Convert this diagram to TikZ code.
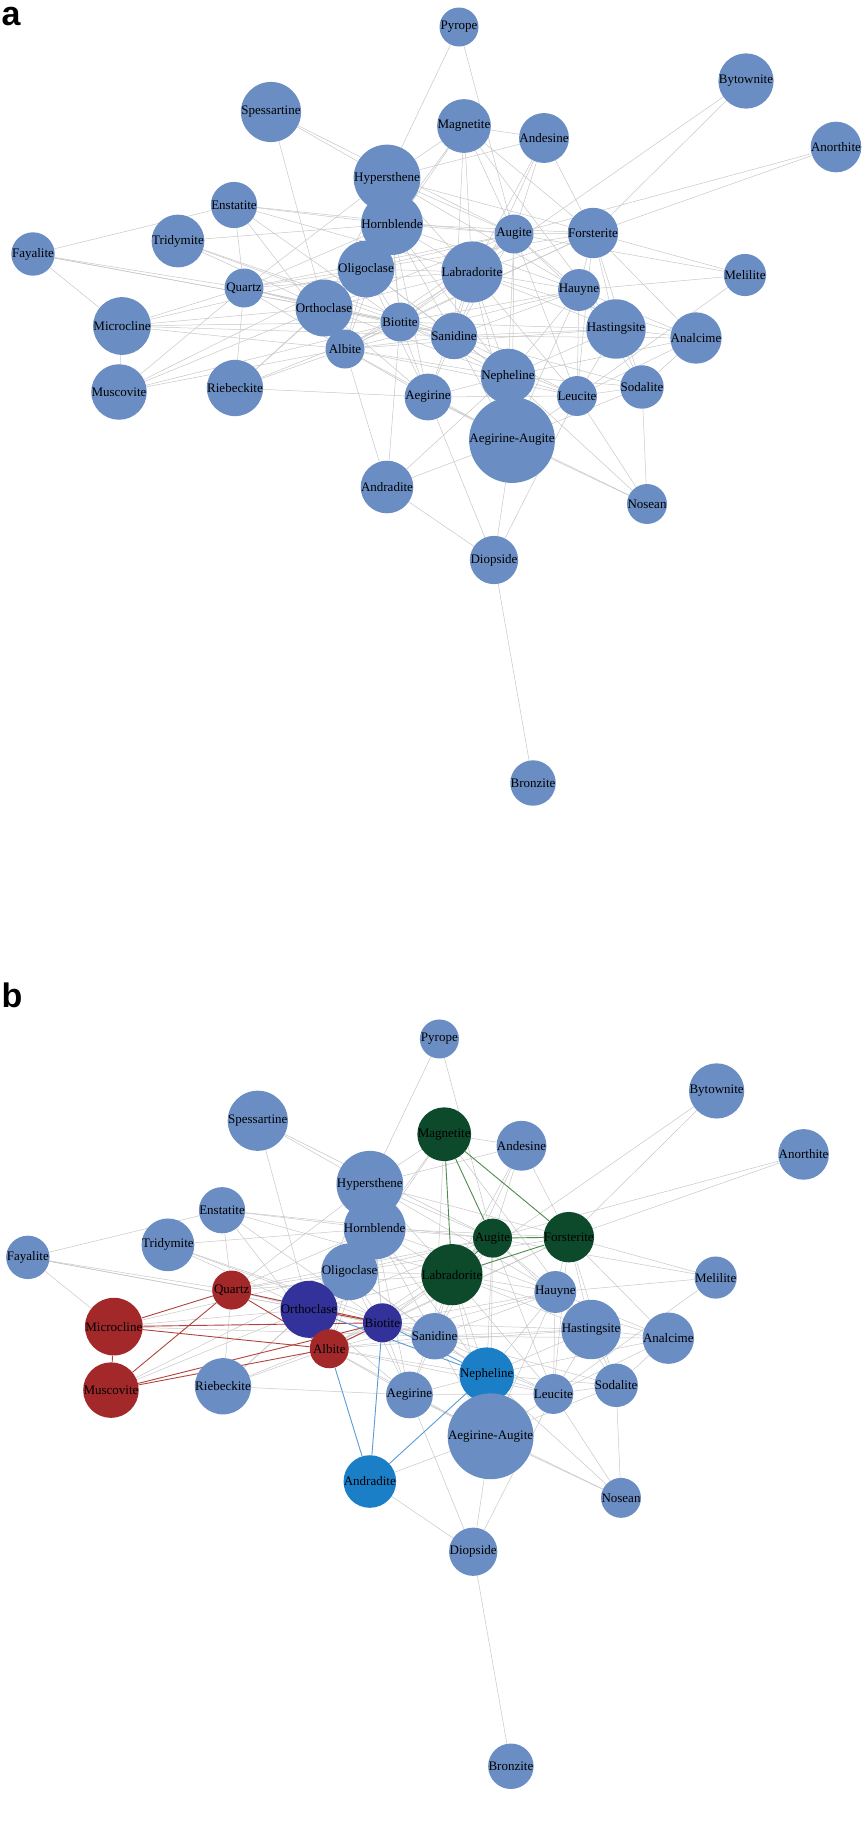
\documentclass[tikz,border=0pt]{standalone}
\usepackage{fontspec}
\setmainfont{Liberation Serif}
\newfontfamily\labfont{Liberation Sans}
\definecolor{nodeblue}{HTML}{6A8EC3}
\definecolor{nred}{HTML}{A3282A}
\definecolor{ngreen}{HTML}{0D4A2C}
\definecolor{npurple}{HTML}{33319A}
\definecolor{nbright}{HTML}{1B7FC8}
\definecolor{ered}{HTML}{B0433C}
\definecolor{egreen}{HTML}{4E8A4E}
\definecolor{eblue}{HTML}{5C9AD4}
\pgfdeclarelayer{bg}
\pgfsetlayers{bg,main}
\tikzset{
  mnode/.style={circle,draw=none,minimum size=39pt,inner sep=0pt,font=\fontsize{13}{13}\selectfont},
  edge/.style={draw=black!22,line width=0.5pt},
  credge/.style={line width=0.9pt},
}
\newcommand\nodelist{%
pyr/459/27/Pyrope/nodeblue, byt/746/81/Bytownite/nodeblue, spe/271/112/Spessartine/nodeblue,
mag/464/126/Magnetite/ngreen, and/544/138/Andesine/nodeblue, ano/836/147/Anorthite/nodeblue,
hyp/387/178/Hypersthene/nodeblue, ens/234/205/Enstatite/nodeblue, hor/392/224/Hornblende/nodeblue,
aug/514/234/Augite/ngreen, for/593/233/Forsterite/ngreen, tri/178/241/Tridymite/nodeblue,
fay/33/254/Fayalite/nodeblue, oli/366/269/Oligoclase/nodeblue, lab/472/272/Labradorite/ngreen,
mel/745/275/Melilite/nodeblue, qua/244/288/Quartz/nred, hau/579/290/Hauyne/nodeblue,
ort/324/308/Orthoclase/npurple, bio/400/322/Biotite/npurple, mic/122/326/Microcline/nred,
has/616/329/Hastingsite/nodeblue, san/454/336/Sanidine/nodeblue, ana/696/338/Analcime/nodeblue,
alb/345/349/Albite/nred, nep/508/376/Nepheline/nbright, sod/642/387/Sodalite/nodeblue,
rie/235/388/Riebeckite/nodeblue, mus/119/392/Muscovite/nred, leu/577/396/Leucite/nodeblue,
aeg/428/397/Aegirine/nodeblue, aea/512/440/Aegirine-Augite/nodeblue, adr/387/487/Andradite/nbright,
nos/647/504/Nosean/nodeblue, dio/494/560/Diopside/nodeblue, bro/533/783/Bronzite/nodeblue}
\newcommand\edgelist{%
pyr/hyp,pyr/aug,byt/lab,byt/for,ano/for,ano/aug,spe/hyp,spe/aug,spe/ort,
mag/and,mag/hyp,mag/hor,mag/oli,mag/san,mag/has,and/hyp,and/aug,and/for,and/lab,and/san,
hyp/hor,hyp/oli,hyp/qua,hyp/aug,hyp/for,hyp/lab,hyp/hau,hyp/bio,hyp/ort,
ens/fay,ens/qua,ens/aug,ens/hor,ens/alb,ens/bio,ens/lab,tri/hor,tri/ort,tri/bio,tri/san,
fay/mic,fay/qua,fay/ort,fay/bio,qua/ort,qua/oli,qua/lab,qua/hor,qua/rie,qua/aug,qua/san,
mic/ort,mic/oli,mic/san,mus/ort,mus/oli,rie/aeg,rie/ort,rie/oli,rie/alb,rie/bio,
hor/aug,hor/for,hor/lab,hor/oli,hor/ort,hor/bio,hor/alb,hor/san,hor/nep,hor/hau,hor/aeg,
aug/hau,aug/has,aug/san,aug/nep,aug/leu,aug/oli,aug/bio,aug/alb,aug/aea,aug/ort,
for/hau,for/mel,for/ana,for/has,for/leu,for/oli,for/bio,for/alb,for/sod,
lab/oli,lab/ort,lab/bio,lab/alb,lab/san,lab/hau,lab/has,lab/nep,lab/leu,lab/aeg,lab/aea,lab/ana,
mel/hau,mel/leu,mel/aug,hau/has,hau/san,hau/nep,hau/leu,hau/sod,hau/bio,hau/alb,hau/ana,hau/aea,
oli/ort,oli/bio,oli/alb,oli/san,oli/aeg,oli/nep,ort/alb,ort/san,ort/aeg,
bio/san,bio/aeg,bio/leu,bio/has,alb/san,alb/nep,alb/aeg,alb/leu,alb/aea,alb/has,
san/has,san/ana,san/nep,san/leu,san/aeg,san/aea,san/sod,has/ana,has/leu,has/sod,has/nep,
ana/leu,ana/sod,ana/nep,nep/leu,nep/sod,nep/aeg,nep/aea,nep/nos,sod/leu,sod/nos,sod/aea,
leu/aeg,leu/aea,leu/nos,leu/dio,aeg/aea,aeg/nos,aeg/dio,aea/nos,aea/dio,aea/adr,adr/dio,dio/bro}
\newcommand\redlist{qua/mic,qua/mus,qua/alb,qua/bio,mic/mus,mic/alb,mic/bio,mus/alb,mus/bio,alb/bio,ort/bio}
\newcommand\greenlist{mag/aug,mag/lab,mag/for,aug/for,aug/lab,lab/for}
\newcommand\bluelist{bio/adr,alb/adr,adr/nep,ort/nep,bio/nep}
\begin{document}
\begin{tikzpicture}[x=1pt,y=-1pt]
\useasboundingbox (0,0) rectangle (866,1845);
\node[font=\labfont\bfseries\fontsize{34}{34}\selectfont,anchor=west] (la) at (-2,17) {a};
\node[font=\labfont\bfseries\fontsize{34}{34}\selectfont,anchor=west] (lb) at (-2,995) {b};
% panel a
\begin{scope}
\foreach \n/\x/\y/\t/\c in \nodelist {\node[mnode,fill=nodeblue] (a\n) at (\x,\y) {\t};}
\begin{pgfonlayer}{bg}
\foreach \u/\v in \edgelist {\draw[edge] (a\u) -- (a\v);}
\foreach \u/\v in \redlist {\draw[edge] (a\u) -- (a\v);}
\foreach \u/\v in \greenlist {\draw[edge] (a\u) -- (a\v);}
\foreach \u/\v in \bluelist {\draw[edge] (a\u) -- (a\v);}
\end{pgfonlayer}
\end{scope}
% panel b
\begin{scope}[shift={(-4pt,-1013pt)},xscale=0.966,yscale=0.962]
\foreach \n/\x/\y/\t/\c in \nodelist {\node[mnode,fill=\c] (b\n) at (\x,\y) {\t};}
\begin{pgfonlayer}{bg}
\foreach \u/\v in \edgelist {\draw[edge] (b\u) -- (b\v);}
\foreach \u/\v in \redlist {\draw[credge,ered] (b\u) -- (b\v);}
\foreach \u/\v in \greenlist {\draw[credge,egreen] (b\u) -- (b\v);}
\foreach \u/\v in \bluelist {\draw[credge,eblue] (b\u) -- (b\v);}
\end{pgfonlayer}
\end{scope}
\end{tikzpicture}
\end{document}
